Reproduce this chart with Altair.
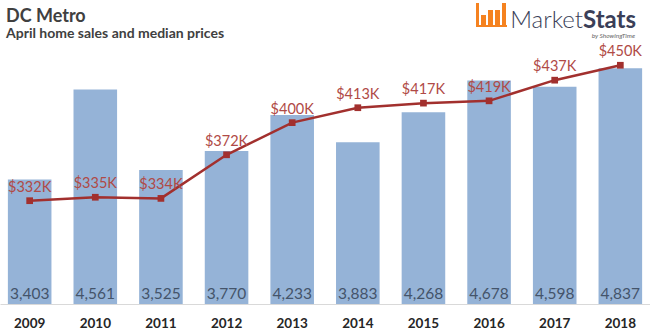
import altair as alt
import pandas as pd

years = ["2009", "2010", "2011", "2012", "2013", "2014", "2015", "2016", "2017", "2018"]
sales = [3403, 4561, 3525, 3770, 4233, 3883, 4268, 4678, 4598, 4837]
prices = [332, 335, 334, 372, 400, 413, 417, 419, 437, 450]

df = pd.DataFrame({"year": years, "sales": sales, "price": prices})
one = pd.DataFrame({"a": [0]})

FONT = "Lato"
W, H = 650, 264
SALES_MIN = 1800

xenc = alt.X("year:N", title=None,
             scale=alt.Scale(paddingInner=0.336, paddingOuter=0.12),
             axis=alt.Axis(labelAngle=0, labelFont=FONT, labelFontWeight="bold",
                           labelFontSize=13.5, labelColor="#262626", labelPadding=12,
                           ticks=False, domainColor="#D9D9D9", domainWidth=1, grid=False))

ys = alt.Y("sales:Q", scale=alt.Scale(domain=[SALES_MIN, 5200], zero=False, nice=False), axis=None)
yp = alt.Y("price:Q", scale=alt.Scale(domain=[242, 472], zero=False, nice=False), axis=None)

base = alt.Chart(df)

bars = base.mark_bar(color="#95B3D7").encode(x=xenc, y=ys, y2=alt.datum(SALES_MIN))
bar_text = base.mark_text(font=FONT, fontSize=15.5, color="#44546A", baseline="alphabetic").encode(
    x=xenc, y=alt.value(H - 5),
    text=alt.Text("sales:Q", format=","))

line = base.mark_line(color="#A2302E", strokeWidth=2.5).encode(x=xenc, y=yp)
pts = base.mark_point(shape="square", filled=True, opacity=1, size=45, color="#A2302E").encode(x=xenc, y=yp)
price_text = base.transform_calculate(lbl="'$' + datum.price + 'K'").mark_text(
    font=FONT, fontSize=14.5, color="#B04A46", baseline="alphabetic", dy=-9).encode(
    x=xenc, y=yp, text="lbl:N")

def txt(s, x, y, size, weight="normal", color="#404040", align="left", style="normal", font=FONT):
    return alt.Chart(one).mark_text(text=s, font=font, fontSize=size, fontWeight=weight,
                                    color=color, align=align, baseline="alphabetic",
                                    fontStyle=style).encode(x=alt.value(x), y=alt.value(y))

def rect(x1, x2, y1, y2, color="#F58220"):
    return alt.Chart(one).mark_rect(color=color).encode(
        x=alt.value(x1), x2=alt.value(x2), y=alt.value(y1), y2=alt.value(y2))

title = txt("DC Metro", 6, -18, 18, weight="bold")
subtitle = txt("April home sales and median prices", 6, -2, 14, weight="bold")

logo_parts = [
    rect(476, 479, -37, -13),
    rect(476, 507, -15, -13),
    rect(481, 486, -25, -15),
    rect(488, 493, -30, -15),
    rect(495, 500, -30, -15),
    rect(502, 506, -37, -15),
    txt("Market", 583, -12, 24, weight=300, color="#3B3F58", align="right"),
    txt("Stats", 583, -12, 24, weight="bold", color="#3B3F58", align="left"),
    txt("by ShowingTime", 635, -2, 6.5, color="#666666", align="right", style="italic"),
]

chart = alt.layer(bars, bar_text, line, pts, price_text, title, subtitle, *logo_parts).resolve_scale(
    y="independent"
).properties(
    width=W, height=H,
    padding={"left": 0, "top": 40, "right": 0, "bottom": 29},
    autosize=alt.AutoSizeParams(type="none"),
).configure_view(stroke=None)

chart.save("out.html", embed_options={"renderer": "svg", "actions": False})
